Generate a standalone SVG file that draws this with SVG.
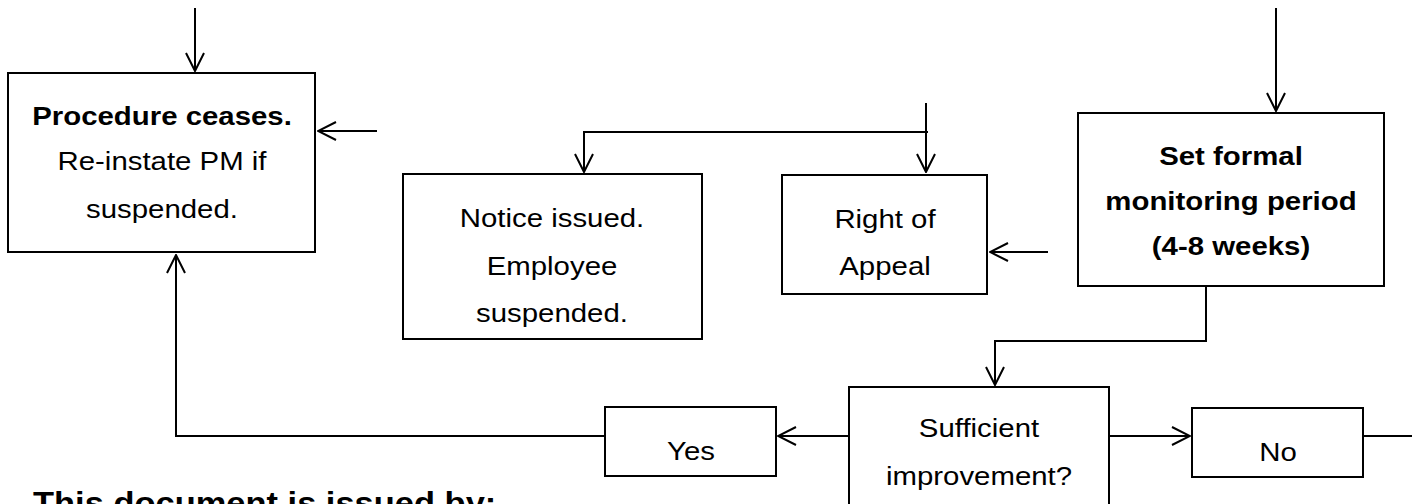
<svg xmlns="http://www.w3.org/2000/svg" width="1419" height="504" viewBox="0 0 1419 504">
<defs>
<style>
.box{fill:#fff;stroke:#000;stroke-width:2}
.ln{fill:none;stroke:#000;stroke-width:2}
.t{font-family:"Liberation Sans",Arial,sans-serif;font-size:26px;fill:#000;text-anchor:middle}
.b{font-weight:bold}
</style>
<marker id="ah" viewBox="0 0 20 20" refX="19" refY="10" markerWidth="20" markerHeight="20" markerUnits="userSpaceOnUse" orient="auto">
<path d="M1,1 L19,10 L1,19" fill="none" stroke="#000" stroke-width="2"/>
</marker>
</defs>
<rect width="1419" height="504" fill="#fff"/>
<g id="connectors">
<path class="ln" d="M195,8 V71" marker-end="url(#ah)"/>
<path class="ln" d="M377,131 H318" marker-end="url(#ah)"/>
<path class="ln" d="M605,436 H176 V255" marker-end="url(#ah)"/>
<path class="ln" d="M926,103 V172" marker-end="url(#ah)"/>
<path class="ln" d="M928,132 H584 V172" marker-end="url(#ah)"/>
<path class="ln" d="M1048,252 H990" marker-end="url(#ah)"/>
<path class="ln" d="M1276,8 V111" marker-end="url(#ah)"/>
<path class="ln" d="M1206,287 V341 H995 V385" marker-end="url(#ah)"/>
<path class="ln" d="M849,436 H778" marker-end="url(#ah)"/>
<path class="ln" d="M1109,436 H1190" marker-end="url(#ah)"/>
<path class="ln" d="M1363,436 H1412"/>
</g>
<g id="procedure">
<rect class="box" x="8" y="73" width="307" height="179"/>
<text class="t b" transform="translate(162 125) scale(1.13 1)">Procedure ceases.</text>
<text class="t" transform="translate(162 170) scale(1.13 1)">Re-instate PM if</text>
<text class="t" transform="translate(162 218) scale(1.13 1)">suspended.</text>
</g>
<g id="notice">
<rect class="box" x="403" y="174" width="299" height="165"/>
<text class="t" transform="translate(552 227) scale(1.13 1)">Notice issued.</text>
<text class="t" transform="translate(552 275) scale(1.13 1)">Employee</text>
<text class="t" transform="translate(552 322) scale(1.13 1)">suspended.</text>
</g>
<g id="appeal">
<rect class="box" x="782" y="175" width="205" height="119"/>
<text class="t" transform="translate(885 228) scale(1.13 1)">Right of</text>
<text class="t" transform="translate(885 275) scale(1.13 1)">Appeal</text>
</g>
<g id="monitoring">
<rect class="box" x="1078" y="113" width="306" height="173"/>
<text class="t b" transform="translate(1231 165) scale(1.13 1)">Set formal</text>
<text class="t b" transform="translate(1231 210) scale(1.13 1)">monitoring period</text>
<text class="t b" transform="translate(1231 255) scale(1.13 1)">(4-8 weeks)</text>
</g>
<g id="sufficient">
<rect class="box" x="849" y="387" width="260" height="140"/>
<text class="t" transform="translate(979 437) scale(1.13 1)">Sufficient</text>
<text class="t" transform="translate(979 485) scale(1.13 1)">improvement?</text>
</g>
<g id="yes">
<rect class="box" x="605" y="407" width="171" height="69"/>
<text class="t" transform="translate(691 460) scale(1.13 1)">Yes</text>
</g>
<g id="no">
<rect class="box" x="1192" y="408" width="171" height="69"/>
<text class="t" transform="translate(1278 461) scale(1.13 1)">No</text>
</g>
<g id="footer">
<text class="b" x="33" y="514" transform="translate(33 0) scale(1.13 1) translate(-33 0)" style="font-family:'Liberation Sans',Arial,sans-serif;font-size:30.5px;font-weight:bold;fill:#000">This document is issued by:</text>
</g>
</svg>
